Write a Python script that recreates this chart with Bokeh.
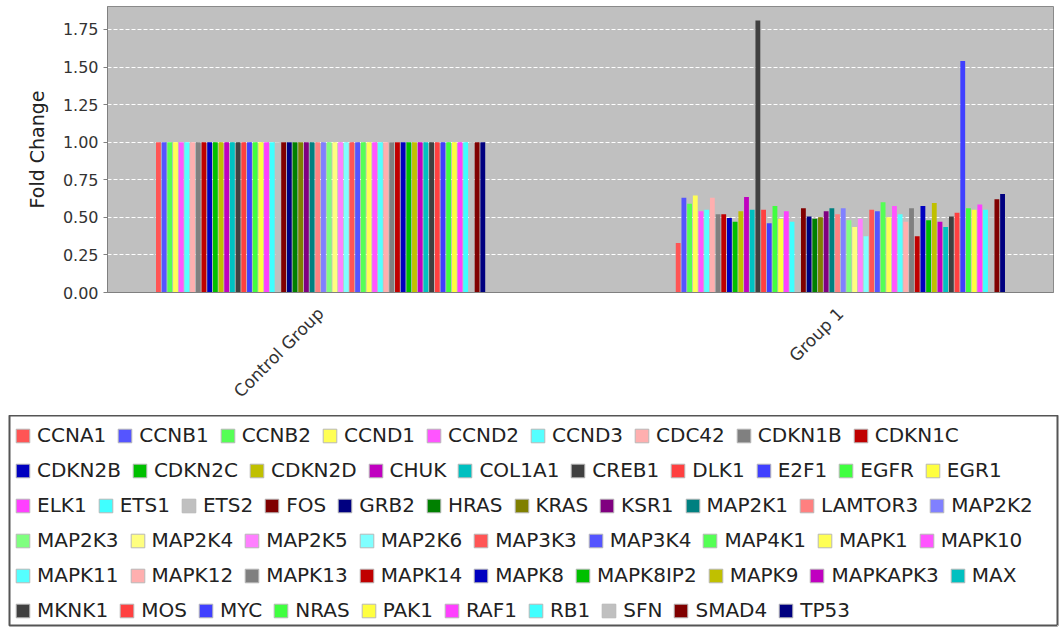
from math import pi
from bokeh.plotting import figure
from bokeh.models import (ColumnDataSource, Range1d, FixedTicker, SingleIntervalTicker,
                          NumeralTickFormatter, Legend, LegendItem)
from bokeh.embed import file_html
from bokeh.resources import INLINE

# ---------------- data ----------------
groups = ["Control Group", "Group 1"]

genes = ["CCNA1", "CCNB1", "CCNB2", "CCND1", "CCND2", "CCND3", "CDC42", "CDKN1B", "CDKN1C",
         "CDKN2B", "CDKN2C", "CDKN2D", "CHUK", "COL1A1", "CREB1", "DLK1", "E2F1", "EGFR", "EGR1",
         "ELK1", "ETS1", "ETS2", "FOS", "GRB2", "HRAS", "KRAS", "KSR1", "MAP2K1", "LAMTOR3", "MAP2K2",
         "MAP2K3", "MAP2K4", "MAP2K5", "MAP2K6", "MAP3K3", "MAP3K4", "MAP4K1", "MAPK1", "MAPK10",
         "MAPK11", "MAPK12", "MAPK13", "MAPK14", "MAPK8", "MAPK8IP2", "MAPK9", "MAPKAPK3", "MAX",
         "MKNK1", "MOS", "MYC", "NRAS", "PAK1", "RAF1", "RB1", "SFN", "SMAD4", "TP53"]

control = [1.00, 1.00, 1.00, 1.00, 1.00, 1.00, 1.00, 1.00, 1.00,
           1.00, 1.00, 1.00, 1.00, 1.00, 1.00, 1.00, 1.00, 1.00, 1.00,
           1.00, 1.00, 1.00, 1.00, 1.00, 1.00, 1.00, 1.00, 1.00, 1.00, 1.00,
           1.00, 1.00, 1.00, 1.00, 1.00, 1.00, 1.00, 1.00, 1.00,
           1.00, 1.00, 1.00, 1.00, 1.00, 1.00, 1.00, 1.00, 1.00,
           1.00, 1.00, 1.00, 1.00, 1.00, 1.00, 1.00, 1.00, 1.00, 1.00]

group1 = [0.33, 0.63, 0.59, 0.645, 0.54, 0.55, 0.63, 0.52, 0.52,
          0.495, 0.47, 0.54, 0.635, 0.55, 1.81, 0.55, 0.46, 0.575, 0.49,
          0.54, 0.47, 0.50, 0.56, 0.505, 0.49, 0.50, 0.54, 0.56, 0.52, 0.56,
          0.48, 0.435, 0.49, 0.375, 0.55, 0.54, 0.60, 0.50, 0.575,
          0.52, 0.47, 0.56, 0.375, 0.575, 0.48, 0.595, 0.47, 0.435,
          0.505, 0.53, 1.54, 0.56, 0.55, 0.585, 0.55, 0.50, 0.62, 0.655]

palette = ["#FF5555", "#5555FF", "#55FF55", "#FFFF55", "#FF55FF", "#55FFFF", "#FFAFAF", "#808080",
           "#C00000", "#0000C0", "#00C000", "#C0C000", "#C000C0", "#00C0C0", "#404040",
           "#FF4040", "#4040FF", "#40FF40", "#FFFF40", "#FF40FF", "#40FFFF", "#C0C0C0",
           "#800000", "#000080", "#008000", "#808000", "#800080", "#008080",
           "#FF8080", "#8080FF", "#80FF80", "#FFFF80", "#FF80FF", "#80FFFF"]

legend_rows = [9, 10, 11, 9, 9, 10]   # items per legend line

# ---------------- layout / style ----------------
FONT = "DejaVu Sans"
n = len(genes)
GROUP_WIDTH = 0.635
slot = GROUP_WIDTH / n
colors = [palette[i % len(palette)] for i in range(n)]

xs, tops, cols = [], [], []
for gi, vals in enumerate([control, group1]):
    for i, v in enumerate(vals):
        xs.append(gi + (i - (n - 1) / 2) * slot)
        tops.append(v)
        cols.append(colors[i])
src = ColumnDataSource(dict(x=xs, top=tops, color=cols))

p = figure(width=1059, height=415, x_range=Range1d(-0.41, 1.41), y_range=Range1d(0, 1.903),
           output_backend="svg", toolbar_location=None,
           min_border_left=107, min_border_right=6, min_border_top=6, min_border_bottom=123)
p.vbar(x="x", top="top", bottom=0, width=slot * 0.85, fill_color="color",
       line_color=None, source=src)

p.background_fill_color = "#c0c0c0"
p.border_fill_color = "white"
p.outline_line_color = "#8a8a8a"
p.xgrid.visible = False
p.ygrid.grid_line_color = "white"
p.ygrid.grid_line_dash = "4 2"
p.ygrid.grid_line_width = 1

p.yaxis.ticker = SingleIntervalTicker(interval=0.25)
p.yaxis.formatter = NumeralTickFormatter(format="0.00")
p.yaxis.axis_label = "Fold Change"
p.yaxis.axis_label_text_font = FONT
p.yaxis.axis_label_text_font_style = "normal"
p.yaxis.axis_label_text_font_size = "19px"
p.yaxis.axis_label_text_color = "#222222"
p.yaxis.axis_label_standoff = 12
p.yaxis.major_label_text_font = FONT
p.yaxis.major_label_text_font_size = "16px"
p.yaxis.major_label_text_color = "#333333"
p.yaxis.axis_line_color = "#808080"
p.yaxis.major_tick_line_color = "#808080"
p.yaxis.major_tick_out = 4
p.yaxis.major_tick_in = 0
p.yaxis.minor_tick_line_color = None

p.xaxis.ticker = FixedTicker(ticks=[0, 1])
p.xaxis.major_label_overrides = {0: groups[0], 1: groups[1]}
p.xaxis.major_label_orientation = pi / 4
p.xaxis.major_label_text_font = FONT
p.xaxis.major_label_text_font_size = "17px"
p.xaxis.major_label_text_color = "#333333"
p.xaxis.major_label_standoff = 12
p.xaxis.major_tick_line_color = None
p.xaxis.minor_tick_line_color = None
p.xaxis.axis_line_color = "#808080"

# ---------------- legend panel ----------------
LG_FRAME_H = 210
lg = figure(width=1059, height=217, x_range=Range1d(0, 1), y_range=Range1d(0, 1),
            output_backend="svg", toolbar_location=None,
            x_axis_type=None, y_axis_type=None,
            min_border_left=9, min_border_right=2, min_border_top=0, min_border_bottom=7)
lg.grid.visible = False
lg.outline_line_color = "#555555"
lg.outline_line_width = 2
lg.background_fill_color = "white"
lg.border_fill_color = "white"

rends = [lg.vbar(x=[5], top=[0], width=0.01, fill_color=c, line_color="#b8b8b8")
         for c in colors]

start = 0
for r, count in enumerate(legend_rows):
    items = [LegendItem(label=genes[k], renderers=[rends[k]]) for k in range(start, start + count)]
    start += count
    center_from_top = 20 + 35 * r
    leg = Legend(items=items, orientation="horizontal",
                 location=(5, LG_FRAME_H - center_from_top - 12),
                 padding=0, margin=0, spacing=10,
                 glyph_width=17, glyph_height=17, label_standoff=6, label_height=24,
                 border_line_color=None, background_fill_alpha=0,
                 label_text_font=FONT, label_text_font_size="20px",
                 label_text_color="#222222")
    lg.add_layout(leg, "center")

open("out.html", "w").write(file_html([p, lg], INLINE))
